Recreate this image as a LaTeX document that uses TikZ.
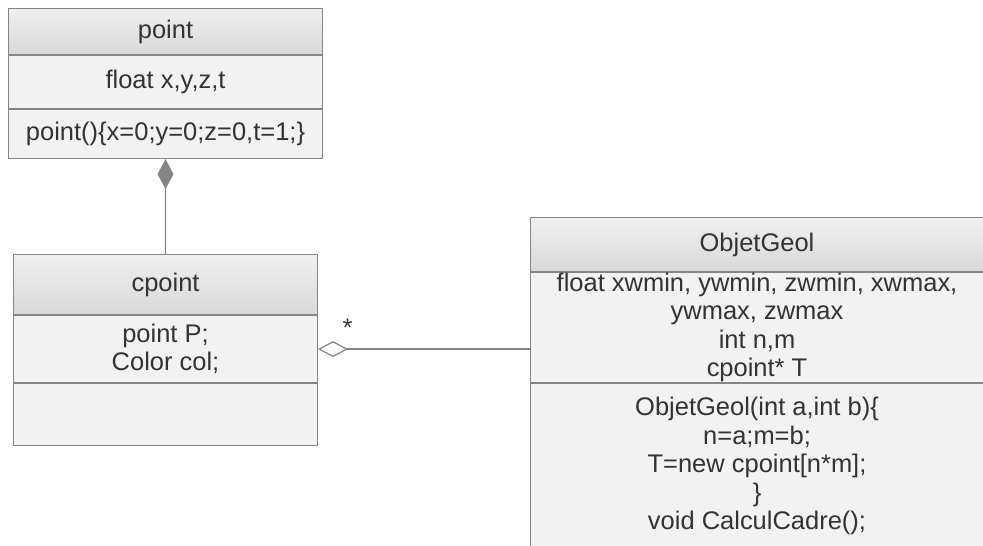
\documentclass[tikz,border=0pt]{standalone}
\usepackage{fontspec}
\setmainfont{Liberation Sans}
\usetikzlibrary{arrows.meta}
\usetikzlibrary{positioning}
\definecolor{umlline}{HTML}{858585}
\definecolor{umlbody}{HTML}{F2F2F2}
\definecolor{umltext}{HTML}{333333}

\begin{document}
\begin{tikzpicture}[
		every node/.style={font=\fontsize{14.5}{16.2}\selectfont, text=umltext},
		hdr/.style={draw=umlline, line width=0.6pt, top color=black!6, bottom color=black!15, inner sep=0pt},
		cmp/.style={draw=umlline, line width=0.6pt, fill=umlbody, inner sep=0pt, align=center},
		txt/.style={inner sep=0pt, align=center},
		link/.style={draw=umlline, line width=0.7pt}
	]
		\useasboundingbox[fill=white] (0,0) rectangle (19.66,-10.92);

		% class point
		\node[hdr, anchor=north west, minimum width=6.28cm, minimum height=0.92cm] (pointH) at (0.16,-0.16) {point};
		\node[cmp, below=0pt of pointH, minimum width=6.28cm, minimum height=1.06cm] (pointA) {float x,y,z,t};
		\node[cmp, below=0pt of pointA, minimum width=6.28cm, minimum height=0.98cm] (pointM) {point()\{x=0;y=0;z=0,t=1;\}};

		% class cpoint
		\node[hdr, anchor=north west, minimum width=6.08cm, minimum height=1.2cm] (cpointH) at (0.26,-5.08) {cpoint};
		\node[cmp, below=0pt of cpointH, minimum width=6.08cm, minimum height=1.34cm] (cpointA) {point P;\\Color col;};
		\node[cmp, below=0pt of cpointA, minimum width=6.08cm, minimum height=1.24cm] (cpointM) {};

		% class ObjetGeol
		\node[hdr, anchor=north west, minimum width=9.06cm, minimum height=1.08cm] (objH) at (10.6,-4.34) {ObjetGeol};
		\node[cmp, below=0pt of objH, minimum width=9.06cm, minimum height=2.2cm] (objA) {};
		\node[cmp, below=0pt of objA, minimum width=9.06cm, minimum height=3.3cm] (objM) {};
		\node[txt] (objAtext) at (objA) {float xwmin, ywmin, zwmin, xwmax,\\ywmax, zwmax\\int n,m\\cpoint* T};
		\node[txt] (objMtext) at (objM) {ObjetGeol(int a,int b)\{\\n=a;m=b;\\T=new cpoint[n*m];\\\}\\void CalculCadre();};

		% relations
		\draw[link, {Diamond[length=0.6cm, width=0.32cm, fill=umlline]}-] (pointM.south) -- (cpointH.north);
		\draw[link, {Diamond[open, length=0.6cm, width=0.32cm, fill=white]}-] (cpointA.east) -- (cpointA.east -| objA.west)
			node[pos=0, anchor=south west, xshift=0.36cm, yshift=0.12cm] (mult) {*};
\end{tikzpicture}
\end{document}
